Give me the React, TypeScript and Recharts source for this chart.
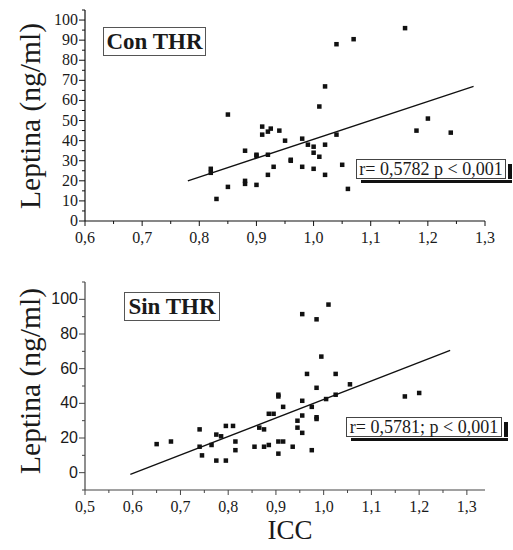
import React from "react";
import { ReferenceLine, Scatter, ScatterChart, XAxis, YAxis } from "recharts";

// Con THR (top panel)
const conIcc = [
  1.16, 1.07, 1.04, 1.02, 1.01, 0.85, 1.2, 1.18, 1.24, 0.91, 0.91, 0.92, 0.925,
  0.94, 0.95, 0.98, 1.04, 0.99, 1.0, 1.02, 1.0, 1.01, 0.9, 0.9, 0.92, 0.88,
  0.96, 0.96, 0.93, 0.98, 1.0, 1.05, 0.92, 1.02, 0.82, 0.82, 0.88, 0.88, 0.9,
  0.85, 1.06, 0.83,
];
const conLeptina = [
  96, 90.5, 88, 67, 57, 53, 51, 45, 44, 47, 43, 44.5, 46, 45, 40, 41, 43, 38,
  37, 38, 34, 32, 33, 32.5, 33, 35, 30.5, 30, 27, 27, 26, 28, 23, 23, 26, 24,
  20, 18.5, 18, 17, 16, 11,
];
const conFitIcc = [0.78, 1.28];
const conFitLeptina = [20, 67];

// Sin THR (bottom panel)
const sinIcc = [
  1.01, 0.955, 0.985, 0.995, 0.965, 1.025, 0.985, 1.055, 0.905, 0.905, 1.025,
  1.17, 1.2, 0.955, 1.005, 0.915, 0.975, 0.955, 0.985, 0.985, 0.885, 0.895,
  0.945, 0.945, 0.955, 0.865, 0.875, 0.74, 0.795, 0.81, 0.775, 0.785, 0.815,
  0.905, 0.915, 0.65, 0.68, 0.74, 0.765, 0.855, 0.875, 0.885, 0.935, 0.745,
  0.815, 0.905, 0.975, 0.775, 0.795,
];
const sinLeptina = [
  97, 91.5, 88.5, 67, 57, 57, 49, 51, 45, 44, 45, 44, 46, 41.5, 42.5, 38, 38,
  33, 32, 31, 34, 34, 30, 26, 23, 26, 25, 25, 27, 27, 22, 21, 18, 18, 18, 16.5,
  18, 15, 16, 15, 15, 16, 15, 10, 13, 11, 13, 7, 7,
];
const sinFitIcc = [0.595, 1.265];
const sinFitLeptina = [-1, 70.5];

const conYTicks = [
  0, 5, 10, 15, 20, 25, 30, 35, 40, 45, 50, 55, 60, 65, 70, 75, 80, 85, 90, 95,
  100, 105,
];
const sinYTicks = [-10, 0, 10, 20, 30, 40, 50, 60, 70, 80, 90, 100, 110];
const conXTicks = [
  0.6, 0.65, 0.7, 0.75, 0.8, 0.85, 0.9, 0.95, 1.0, 1.05, 1.1, 1.15, 1.2, 1.25,
  1.3,
];
const sinXTicks = [
  0.5, 0.55, 0.6, 0.65, 0.7, 0.75, 0.8, 0.85, 0.9, 0.95, 1.0, 1.05, 1.1, 1.15,
  1.2, 1.25, 1.3,
];

const SERIF = '"Liberation Serif", "Times New Roman", serif';
const SANS = '"Liberation Sans", Arial, sans-serif';
const INK = "#1a1a1a";

const toPoints = (xs: number[], ys: number[]) =>
  xs.map((x, i) => ({ x, y: ys[i] }));

const Square = (props: any) => (
  <rect x={props.cx - 2.2} y={props.cy - 2.2} width={4.5} height={4.5} fill="#111" />
);

const isMajorX = (v: number) => Math.round(v * 100) % 10 === 0;
const fmtX = (v: number) => v.toFixed(1).replace(".", ",");

function XTick(props: any) {
  const { x, y, payload } = props;
  const major = isMajorX(payload.value);
  const axisY = y - 8;
  return (
    <g>
      <line x1={x} x2={x} y1={axisY} y2={axisY + (major ? 5 : 3)} stroke={props.axisColor} />
      {major && (
        <text
          x={x}
          y={axisY + 22}
          textAnchor="middle"
          style={{ fontFamily: SERIF, fontSize: 16 }}
          fill={INK}
        >
          {fmtX(payload.value)}
        </text>
      )}
    </g>
  );
}

function YTick(props: any) {
  const { x, y, payload, step, font, size, axisColor } = props;
  const major = payload.value % step === 0 && payload.value >= 0 && payload.value <= 100;
  const axisX = x + 8;
  return (
    <g>
      <line x1={axisX} x2={axisX - (major ? 6 : 3)} y1={y} y2={y} stroke={axisColor} />
      {major && (
        <text
          x={axisX - 7}
          y={y + 5}
          textAnchor="end"
          style={{ fontFamily: font, fontSize: size }}
          fill={INK}
        >
          {payload.value}
        </text>
      )}
    </g>
  );
}

function Panel(props: {
  top: number;
  height: number;
  marginTop: number;
  marginBottom: number;
  xDomain: number[];
  yDomain: number[];
  xTicks: number[];
  yTicks: number[];
  yStep: number;
  yFont: string;
  ySize: number;
  axisColor: string;
  points: { x: number; y: number }[];
  fit: { x: number; y: number }[];
}) {
  return (
    <div style={{ position: "absolute", left: 0, top: props.top }}>
      <ScatterChart
        width={513}
        height={props.height}
        margin={{ top: props.marginTop, right: 28, bottom: props.marginBottom, left: 0 }}
      >
        <XAxis
          type="number"
          dataKey="x"
          domain={props.xDomain}
          ticks={props.xTicks}
          allowDataOverflow
          interval={0}
          height={30}
          tickLine={false}
          tickSize={6}
          tickMargin={2}
          axisLine={{ stroke: props.axisColor, strokeWidth: 1.2 }}
          tick={<XTick axisColor={props.axisColor} />}
        />
        <YAxis
          type="number"
          dataKey="y"
          domain={props.yDomain}
          ticks={props.yTicks}
          allowDataOverflow
          interval={0}
          width={85}
          tickLine={false}
          tickSize={6}
          tickMargin={2}
          axisLine={{ stroke: props.axisColor, strokeWidth: 1.2 }}
          tick={
            <YTick
              step={props.yStep}
              font={props.yFont}
              size={props.ySize}
              axisColor={props.axisColor}
            />
          }
        />
        <Scatter data={props.points} shape={Square} isAnimationActive={false} />
        <ReferenceLine
          segment={props.fit}
          stroke="#111"
          strokeWidth={1.3}
          ifOverflow="visible"
        />
      </ScatterChart>
    </div>
  );
}

const box = (l: number, t: number, w: number, h: number): React.CSSProperties => ({
  position: "absolute",
  left: l,
  top: t,
  width: w,
  height: h,
  boxSizing: "border-box",
});

function StatBox(props: { left: number; top: number; width: number; text: string }) {
  const { left, top, width, text } = props;
  return (
    <>
      <div
        style={{
          ...box(left, top, width, 20),
          border: "1px solid #444",
          background: "#fff",
          fontFamily: SERIF,
          fontSize: 18,
          lineHeight: "18px",
          textAlign: "center",
          color: INK,
          whiteSpace: "nowrap",
        }}
      >
        {text}
      </div>
      <div style={{ ...box(left + width + 2, top + 5, 4, 15), background: "#111" }} />
      <div style={{ ...box(left + 5, top + 21, width + 1, 3), background: "#111" }} />
    </>
  );
}

function TitleBox(props: { left: number; top: number; width: number; text: string }) {
  return (
    <div
      style={{
        ...box(props.left, props.top, props.width, 29),
        border: "1px solid #555",
        fontFamily: SERIF,
        fontWeight: "bold",
        fontSize: 23,
        lineHeight: "27px",
        textAlign: "center",
        color: INK,
        whiteSpace: "nowrap",
      }}
    >
      {props.text}
    </div>
  );
}

function YTitle(props: { cy: number }) {
  return (
    <div
      style={{
        position: "absolute",
        left: 30,
        top: props.cy,
        transform: "translate(-50%, -50%) rotate(-90deg)",
        fontFamily: SERIF,
        fontSize: 29.5,
        color: INK,
        whiteSpace: "nowrap",
      }}
    >
      Leptina (ng/ml)
    </div>
  );
}

export default function App() {
  return (
    <div
      style={{
        position: "absolute",
        left: 0,
        top: 0,
        width: 513,
        height: 550,
        background: "#fff",
        overflow: "hidden",
      }}
    >
      <Panel
        top={0}
        height={260}
        marginTop={10}
        marginBottom={9}
        xDomain={[0.6, 1.3]}
        yDomain={[0, 105]}
        xTicks={conXTicks}
        yTicks={conYTicks}
        yStep={10}
        yFont={SERIF}
        ySize={16}
        axisColor="#111"
        points={toPoints(conIcc, conLeptina)}
        fit={toPoints(conFitIcc, conFitLeptina)}
      />
      <Panel
        top={260}
        height={290}
        marginTop={22}
        marginBottom={30}
        xDomain={[0.5, 1.338]}
        yDomain={[-10, 110]}
        xTicks={sinXTicks}
        yTicks={sinYTicks}
        yStep={20}
        yFont={SANS}
        ySize={16}
        axisColor="#444"
        points={toPoints(sinIcc, sinLeptina)}
        fit={toPoints(sinFitIcc, sinFitLeptina)}
      />
      <TitleBox left={103} top={27} width={103} text="Con THR" />
      <TitleBox left={124} top={292} width={96} text="Sin THR" />
      <StatBox left={356} top={159} width={150} text="r= 0,5782 p < 0,001" />
      <StatBox left={346} top={417} width={156} text="r= 0,5781; p < 0,001" />
      <YTitle cy={116} />
      <YTitle cy={381} />
      <div
        style={{
          position: "absolute",
          left: 290,
          top: 530,
          transform: "translate(-50%, -50%)",
          fontFamily: SERIF,
          fontSize: 27,
          color: INK,
        }}
      >
        ICC
      </div>
    </div>
  );
}
